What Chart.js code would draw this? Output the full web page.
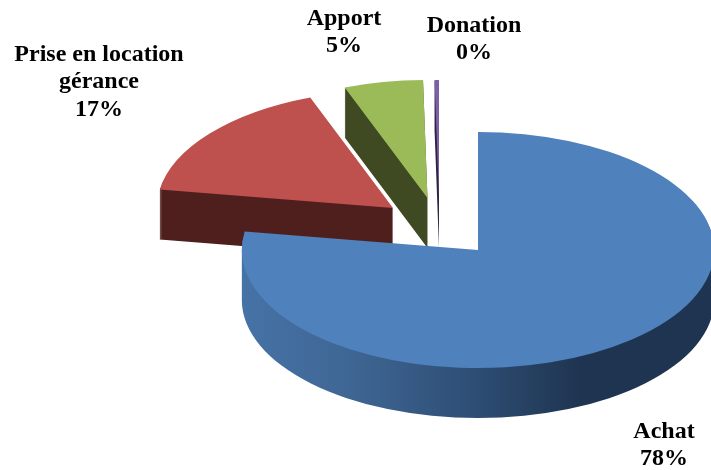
<!DOCTYPE html>
<html>
<head>
<meta charset="utf-8">
<style>html,body{margin:0;padding:0;background:#fff}canvas{display:block}</style>
<script src="https://cdn.jsdelivr.net/npm/chart.js@4"></script>
</head>
<body>
<canvas id="c" width="711" height="470"></canvas>
<script>
const categories = ['Achat', ['Prise en location', 'gérance'], 'Apport', 'Donation'];
const shares = [77.5, 16.8, 5.4, 0.3];
const topColors = ['#4f81bd', '#be504e', '#9bbb59', '#7d5fa8'];
const wallColors = [null, '#4f1f1e', '#3f4a22', '#2e2340'];
const achatWallStops = [[0, '#4672a6'], [0.22, '#3f6795'], [0.5, '#2d4d73'], [0.72, '#1f3450'], [1, '#1f3450']];
const sliceCentres = [[478, 250], [393, 208], [427.5, 198], [439, 198]];
const labelAnchors = [[664, 431.5], [99, 54.5], [344, 18.5], [474, 25.5]];
const drawOrder = [3, 2, 1, 0];
const tilt = 0.5, stretch = 1.005, depth = 50, lineHeight = 27.5;

const pie3d = {
  id: 'pie3d',
  beforeDatasetsDraw(chart) {
    const ctx = chart.ctx;
    const arcs = chart.getDatasetMeta(0).data;
    drawOrder.forEach(i => {
      const el = arcs[i];
      const [cx, cy] = sliceCentres[i];
      const place = dy => {
        ctx.translate(cx, cy + dy);
        ctx.scale(stretch, stretch * tilt);
        ctx.translate(-el.x, -el.y);
      };
      const addSlice = dy => {
        ctx.save();
        place(dy);
        ctx.moveTo(el.x, el.y);
        ctx.arc(el.x, el.y, el.outerRadius, el.startAngle, el.endAngle);
        ctx.closePath();
        ctx.restore();
      };
      let wall = wallColors[i];
      if (!wall) {
        wall = ctx.createLinearGradient(cx - el.outerRadius, 0, cx + el.outerRadius, 0);
        achatWallStops.forEach(s => wall.addColorStop(s[0], s[1]));
      }
      ctx.fillStyle = wall;
      ctx.beginPath();
      for (let d = depth; d >= 1; d--) addSlice(d);
      ctx.fill();
      ctx.save();
      place(0);
      el.draw(ctx);
      ctx.restore();
    });
    return false;
  },
  afterDraw(chart) {
    const ctx = chart.ctx;
    ctx.save();
    ctx.fillStyle = '#000';
    ctx.font = 'bold 24px "Liberation Serif"';
    ctx.textAlign = 'center';
    ctx.textBaseline = 'middle';
    categories.forEach((name, i) => {
      const lines = [].concat(name, Math.round(shares[i]) + '%');
      lines.forEach((t, n) => ctx.fillText(t, labelAnchors[i][0], labelAnchors[i][1] + n * lineHeight));
    });
    ctx.restore();
  }
};

new Chart(document.getElementById('c'), {
  type: 'pie',
  data: {
    labels: categories,
    datasets: [{ data: shares, backgroundColor: topColors, borderWidth: 0 }]
  },
  options: {
    responsive: false,
    animation: false,
    events: [],
    plugins: { legend: { display: false }, tooltip: { enabled: false } }
  },
  plugins: [pie3d]
});
</script>
</body>
</html>
